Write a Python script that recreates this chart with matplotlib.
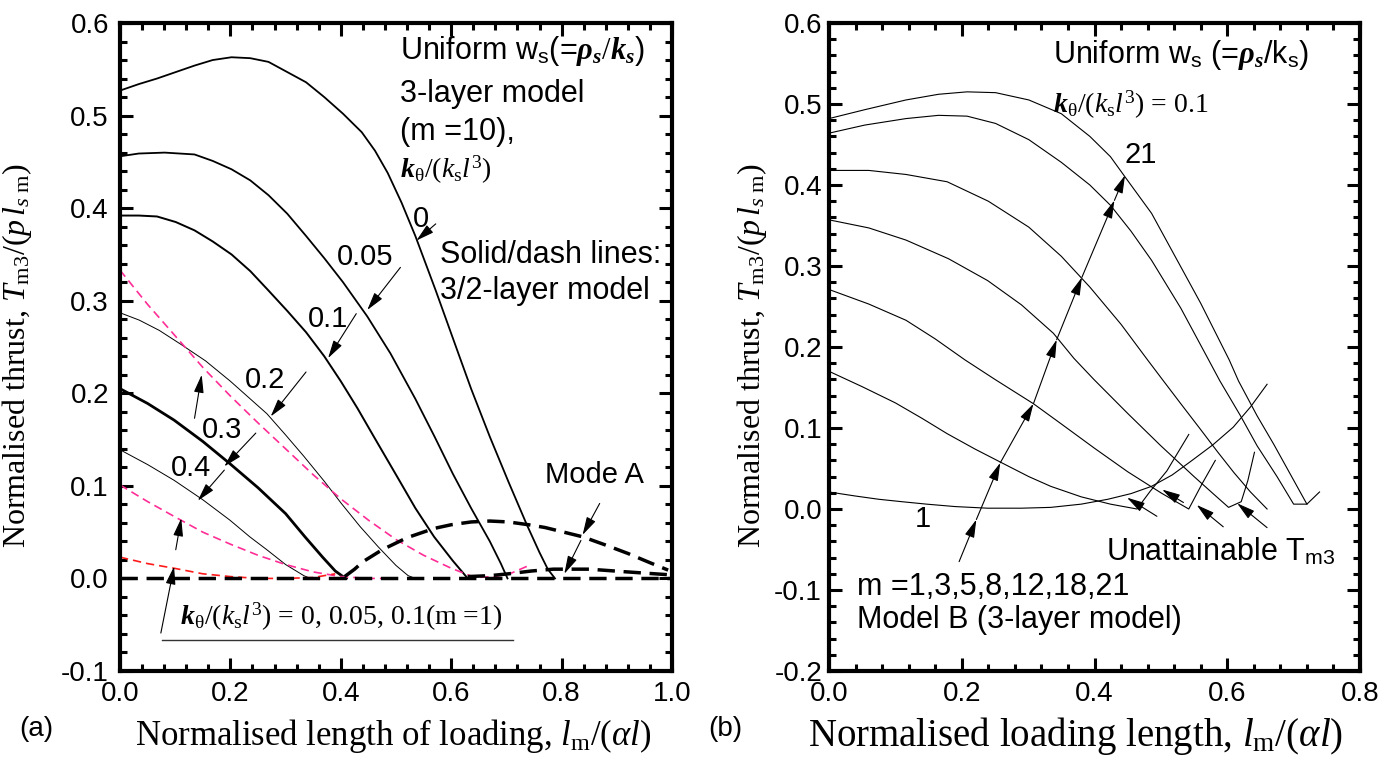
import numpy as np
import matplotlib
matplotlib.use('Agg')
import matplotlib.pyplot as plt
from matplotlib.ticker import MultipleLocator, FormatStrFormatter

plt.rcParams['font.family'] = ['Liberation Sans', 'DejaVu Sans']
plt.rcParams['mathtext.fontset'] = 'custom'
plt.rcParams['mathtext.rm'] = 'Liberation Serif'
plt.rcParams['mathtext.it'] = 'Liberation Serif:italic'
plt.rcParams['mathtext.bf'] = 'Liberation Serif:bold'
plt.rcParams['mathtext.bfit'] = 'Liberation Serif:bold:italic'
plt.rcParams['mathtext.sf'] = 'Liberation Sans'

# ---- panel (a): 3-layer model (m = 10), k_theta/(k_s l^3) = 0 ... 0.4
k0_x = [0, 0.034, 0.067, 0.101, 0.135, 0.168, 0.202, 0.236, 0.269, 0.303, 0.337, 0.370, 0.404,
        0.438, 0.462, 0.485, 0.51, 0.535, 0.572, 0.613, 0.636, 0.670, 0.704, 0.737, 0.76, 0.775, 0.788]
k0_y = [0.527, 0.534, 0.540, 0.547, 0.554, 0.560, 0.563, 0.562, 0.558, 0.547, 0.536, 0.520, 0.502,
        0.482, 0.462, 0.438, 0.406, 0.370, 0.311, 0.243, 0.205, 0.153, 0.104, 0.058, 0.028, 0.010, 0.0]
k005_x = [0, 0.034, 0.081, 0.135, 0.168, 0.202, 0.236, 0.269, 0.303, 0.337, 0.370, 0.404, 0.448,
          0.49, 0.535, 0.57, 0.603, 0.636, 0.670, 0.69, 0.702]
k005_y = [0.456, 0.459, 0.460, 0.458, 0.451, 0.442, 0.430, 0.414, 0.394, 0.370, 0.346, 0.320, 0.283,
          0.243, 0.194, 0.153, 0.113, 0.076, 0.040, 0.016, 0.0]
k01_x = [0, 0.034, 0.067, 0.101, 0.135, 0.168, 0.202, 0.236, 0.269, 0.303, 0.337, 0.37, 0.40,
         0.43, 0.46, 0.502, 0.535, 0.569, 0.603, 0.63]
k01_y = [0.392, 0.392, 0.391, 0.385, 0.376, 0.364, 0.350, 0.332, 0.311, 0.289, 0.266, 0.240, 0.213,
         0.184, 0.153, 0.110, 0.076, 0.045, 0.019, 0.0]
k02_x = [0, 0.035, 0.071, 0.11, 0.155, 0.2, 0.266, 0.3, 0.333, 0.37, 0.401, 0.435, 0.468, 0.5, 0.522, 0.535]
k02_y = [0.287, 0.279, 0.268, 0.253, 0.235, 0.213, 0.178, 0.155, 0.132, 0.105, 0.081, 0.056, 0.034, 0.014, 0.003, 0.0]
k03_x = [0, 0.05, 0.098, 0.15, 0.199, 0.25, 0.300, 0.335, 0.367, 0.39, 0.404, 0.41]
k03_y = [0.205, 0.189, 0.171, 0.148, 0.124, 0.098, 0.070, 0.045, 0.023, 0.008, 0.002, 0.0]
k04_x = [0, 0.05, 0.098, 0.15, 0.199, 0.235, 0.266, 0.3, 0.333, 0.345]
k04_y = [0.139, 0.123, 0.106, 0.085, 0.063, 0.045, 0.031, 0.015, 0.003, 0.0]

# 2-layer model (dashed)
two1_x = [0, 0.05, 0.1, 0.15, 0.2, 0.25, 0.3, 0.35, 0.4, 0.45, 0.5, 0.55, 0.6, 0.643, 0.68, 0.71, 0.737]
two1_y = [0.333, 0.296, 0.262, 0.228, 0.197, 0.168, 0.140, 0.112, 0.086, 0.063, 0.042, 0.025, 0.011, 0.001, 0.002, 0.006, 0.013]
two2_x = [0, 0.05, 0.098, 0.15, 0.2, 0.25, 0.3, 0.35, 0.4, 0.45, 0.48]
two2_y = [0.101, 0.083, 0.067, 0.050, 0.037, 0.025, 0.015, 0.007, 0.002, 0.0, 0.0]
two3_x = [0, 0.05, 0.098, 0.15, 0.2, 0.25, 0.3, 0.35, 0.39]
two3_y = [0.023, 0.016, 0.011, 0.005, 0.002, 0.0, 0.0, 0.001, 0.005]

# Mode A (thick dashed)
modeA1_x = [0, 1.0]
modeA1_y = [0, 0]
modeA2_x = [0.407, 0.425, 0.44, 0.475, 0.52, 0.569, 0.6, 0.636, 0.67, 0.704, 0.74, 0.77, 0.838,
            0.88, 0.92, 0.96, 0.993]
modeA2_y = [0.002, 0.010, 0.018, 0.031, 0.044, 0.054, 0.058, 0.061, 0.062, 0.061, 0.058, 0.055, 0.045,
            0.036, 0.027, 0.017, 0.009]
modeA3_x = [0.630, 0.67, 0.704, 0.745, 0.785, 0.85, 0.92, 0.993]
modeA3_y = [0.002, 0.003, 0.005, 0.008, 0.010, 0.010, 0.007, 0.004]

# ---- panel (b): Model B, m = 1,3,5,8,12,18,21
m1_x = [0, 0.04, 0.075, 0.11, 0.147, 0.19, 0.239, 0.29, 0.334, 0.38, 0.42, 0.455, 0.486, 0.517,
        0.547, 0.578, 0.609, 0.635, 0.660]
m1_y = [0.021, 0.016, 0.012, 0.009, 0.006, 0.003, 0.001, 0.001, 0.002, 0.006, 0.012, 0.019, 0.028,
        0.042, 0.060, 0.079, 0.101, 0.126, 0.154]
m3_x = [0, 0.05, 0.1, 0.14, 0.178, 0.22, 0.258, 0.301, 0.334, 0.38, 0.424, 0.464, 0.484, 0.509, 0.542]
m3_y = [0.170, 0.151, 0.131, 0.112, 0.093, 0.074, 0.058, 0.040, 0.028, 0.015, 0.006, 0.0, 0.022, 0.047, 0.092]
m5_x = [0, 0.06, 0.116, 0.16, 0.205, 0.25, 0.308, 0.35, 0.40, 0.45, 0.50, 0.525, 0.542, 0.562, 0.582]
m5_y = [0.271, 0.253, 0.233, 0.210, 0.184, 0.160, 0.130, 0.105, 0.075, 0.046, 0.020, 0.008, 0.0, 0.031, 0.060]
m8_x = [0, 0.06, 0.116, 0.18, 0.239, 0.29, 0.338, 0.369, 0.399, 0.45, 0.5, 0.55, 0.58, 0.602,
        0.621, 0.631, 0.641]
m8_y = [0.357, 0.347, 0.332, 0.309, 0.282, 0.252, 0.217, 0.186, 0.160, 0.118, 0.078, 0.040, 0.018, 0.002,
        0.009, 0.035, 0.070]
m12_x = [0, 0.06, 0.116, 0.178, 0.24, 0.301, 0.35, 0.393, 0.44, 0.48, 0.504, 0.53, 0.56, 0.585,
         0.61, 0.635, 0.66]
m12_y = [0.418, 0.418, 0.413, 0.404, 0.380, 0.348, 0.312, 0.274, 0.228, 0.184, 0.158, 0.130, 0.098, 0.071,
         0.045, 0.021, 0.0]
m18_x = [0, 0.054, 0.116, 0.165, 0.208, 0.251, 0.301, 0.35, 0.393, 0.424, 0.455, 0.486, 0.53, 0.572,
         0.589, 0.62, 0.645, 0.675, 0.700, 0.720]
m18_y = [0.464, 0.474, 0.482, 0.486, 0.485, 0.476, 0.456, 0.428, 0.400, 0.375, 0.343, 0.307, 0.248, 0.184,
         0.158, 0.115, 0.078, 0.040, 0.006, 0.006]
m21_x = [0, 0.054, 0.116, 0.165, 0.208, 0.251, 0.301, 0.350, 0.393, 0.424, 0.446, 0.486, 0.516, 0.560,
         0.603, 0.617, 0.645, 0.67, 0.695, 0.720, 0.739]
m21_y = [0.482, 0.493, 0.505, 0.512, 0.515, 0.514, 0.505, 0.488, 0.460, 0.435, 0.410, 0.365, 0.320, 0.254,
         0.184, 0.158, 0.115, 0.080, 0.043, 0.006, 0.021]

# chain of arrows through the m-curves
chain_x = [0.196, 0.222, 0.258, 0.308, 0.343, 0.381, 0.430, 0.446]
chain_y = [-0.065, -0.013, 0.057, 0.130, 0.209, 0.286, 0.381, 0.412]

# "unattainable" arrows: (tail, tip)
unatt = [((0.494, -0.009), (0.449, 0.014)),
         ((0.534, 0.008), (0.502, 0.024)),
         ((0.594, -0.022), (0.554, 0.005)),
         ((0.660, -0.023), (0.615, 0.007))]

serif = ['Liberation Serif', 'DejaVu Serif']
PINK = '#ff2d96'
RED = '#ff1a1a'
KLAB = r'$\mathbfit{k}_{\mathrm{\theta}}/(k_\mathrm{s}l^3)$'


def arrow(ax, tail, tip, lw=0.8):
    ax.annotate('', xy=tip, xytext=tail,
                arrowprops=dict(arrowstyle='-|>,head_length=1.1,head_width=0.3',
                                mutation_scale=10, lw=lw, color='k',
                                shrinkA=0, shrinkB=0))


def style_axes(ax, ypad):
    for sp in ax.spines.values():
        sp.set_linewidth(3.0)
    ax.tick_params(which='both', direction='in', top=True, right=True, labelsize=20)
    ax.tick_params(axis='x', pad=7)
    ax.tick_params(axis='y', pad=ypad)
    ax.tick_params(which='major', length=9.5, width=2.2)
    ax.tick_params(which='minor', length=5, width=2.2)
    ax.xaxis.set_major_locator(MultipleLocator(0.2))
    ax.xaxis.set_minor_locator(MultipleLocator(0.04))
    ax.yaxis.set_major_locator(MultipleLocator(0.1))
    ax.yaxis.set_minor_locator(MultipleLocator(0.02))
    ax.xaxis.set_major_formatter(FormatStrFormatter('%.1f'))
    ax.yaxis.set_major_formatter(FormatStrFormatter('%.1f'))


fig = plt.figure(figsize=(13.98, 7.67), dpi=100)
W, H = 1398, 767
axa = fig.add_axes([120 / W, 1 - 671 / H, 552 / W, 648 / H])
axb = fig.add_axes([829 / W, 1 - 671 / H, 531 / W, 648 / H])

# ---------------- panel (a)
axa.plot(k0_x, k0_y, 'k-', lw=1.3)
axa.plot(k005_x, k005_y, 'k-', lw=1.3)
axa.plot(k01_x, k01_y, 'k-', lw=1.4)
axa.plot(k02_x, k02_y, 'k-', lw=0.7)
axa.plot(k03_x, k03_y, 'k-', lw=2.0)
axa.plot(k04_x, k04_y, 'k-', lw=0.7)
axa.plot(two1_x, two1_y, color=PINK, lw=1.2, dashes=(5, 3))
axa.plot(two2_x, two2_y, color=PINK, lw=1.2, dashes=(5, 3))
axa.plot(two3_x, two3_y, color=RED, lw=1.2, dashes=(5, 3))
for xs, ys in [(modeA1_x, modeA1_y), (modeA2_x, modeA2_y), (modeA3_x, modeA3_y)]:
    axa.plot(xs, ys, 'k-', lw=2.5, dashes=(5, 2.5))

axa.set_xlim(0, 1.0)
axa.set_ylim(-0.1, 0.6)
style_axes(axa, 8)

fs = 22
axa.text(0.508, 0.570, r'Uniform w$_\mathsf{s}$(=$\mathbfit{\rho}_\mathbfit{s}/\mathbfit{k}_\mathbfit{s}$)',
         fontsize=fs, va='center')
axa.text(0.508, 0.523, '3-layer model', fontsize=fs, va='center')
axa.text(0.508, 0.482, '(m =10),', fontsize=fs, va='center')
axa.text(0.508, 0.441, KLAB, fontsize=20, va='center')
axa.text(0.579, 0.349, 'Solid/dash lines:', fontsize=fs, va='center')
axa.text(0.579, 0.311, '3/2-layer model', fontsize=fs, va='center')

labels_a = [('0', 0.545, 0.388, (0.572, 0.383), (0.537, 0.365)),
            ('0.05', 0.444, 0.347, (0.508, 0.336), (0.448, 0.290)),
            ('0.1', 0.377, 0.280, (0.428, 0.286), (0.377, 0.238)),
            ('0.2', 0.263, 0.214, (0.337, 0.223), (0.273, 0.175)),
            ('0.3', 0.185, 0.160, (0.246, 0.157), (0.189, 0.121)),
            ('0.4', 0.128, 0.119, (0.189, 0.117), (0.141, 0.084))]
for txt, tx, ty, tail, tip in labels_a:
    axa.text(tx, ty, txt, fontsize=21, ha='center', va='center')
    arrow(axa, tail, tip)

arrow(axa, (0.135, 0.173), (0.148, 0.220))
arrow(axa, (0.101, 0.031), (0.111, 0.065))
arrow(axa, (0.074, -0.059), (0.098, 0.013))

axa.text(0.859, 0.112, 'Mode A', fontsize=21, ha='center', va='center')
arrow(axa, (0.869, 0.081), (0.838, 0.047))
arrow(axa, (0.835, 0.041), (0.805, 0.005))

axa.text(0.109, -0.042, KLAB + ' = 0, 0.05, 0.1(m =1)',
         fontsize=20, va='center', family=serif)
axa.plot([0.076, 0.712], [-0.066, -0.066], color='#333333', lw=1.0)

# ---------------- panel (b)
for xs, ys in [(m1_x, m1_y), (m3_x, m3_y), (m5_x, m5_y), (m8_x, m8_y),
               (m12_x, m12_y), (m18_x, m18_y), (m21_x, m21_y)]:
    axb.plot(xs, ys, 'k-', lw=0.8)

for i in range(len(chain_x) - 1):
    arrow(axb, (chain_x[i], chain_y[i]), (chain_x[i + 1], chain_y[i + 1]))
for tail, tip in unatt:
    arrow(axb, tail, tip)

axb.set_xlim(0, 0.8)
axb.set_ylim(-0.2, 0.6)
style_axes(axb, 5)

axb.text(0.338, 0.561, r'Uniform w$_\mathsf{s}$ (=$\mathbfit{\rho}_\mathbfit{s}$/k$_\mathsf{s}$)',
         fontsize=22, va='center')
axb.text(0.338, 0.499, KLAB + ' = 0.1', fontsize=20, va='center', family=serif)
axb.text(0.470, 0.437, '21', fontsize=21, ha='center', va='center')
axb.text(0.141, -0.012, '1', fontsize=21, ha='center', va='center')
axb.text(0.418, -0.053, r'Unattainable T$_\mathsf{m3}$', fontsize=22, va='center')
axb.text(0.042, -0.096, 'm =1,3,5,8,12,18,21', fontsize=22, va='center')
axb.text(0.042, -0.137, 'Model B (3-layer model)', fontsize=22, va='center')

# ---------------- axis titles
ylab = r'Normalised thrust, $T_\mathrm{m3}/(p\,l_{s\ \mathrm{m}})$'
fig.text(25 / W, 1 - 355 / H, ylab, rotation=90, rotation_mode='anchor',
         ha='center', va='baseline', fontsize=23, family=serif)
fig.text(760 / W, 1 - 355 / H, ylab, rotation=90, rotation_mode='anchor',
         ha='center', va='baseline', fontsize=23, family=serif)
fig.text(135 / W, 1 - 745 / H, r'Normalised length of loading, $l_\mathrm{m}/(\alpha l)$',
         ha='left', va='baseline', fontsize=25, family=serif)
fig.text(1343 / W, 1 - 746 / H, r'Normalised loading length, $l_\mathrm{m}/(\alpha l)$',
         ha='right', va='baseline', fontsize=28, family=serif)
fig.text(36 / W, 1 - 729 / H, '(a)', ha='center', va='center', fontsize=20)
fig.text(725 / W, 1 - 729 / H, '(b)', ha='center', va='center', fontsize=20)

fig.savefig('out.png', dpi=100)
